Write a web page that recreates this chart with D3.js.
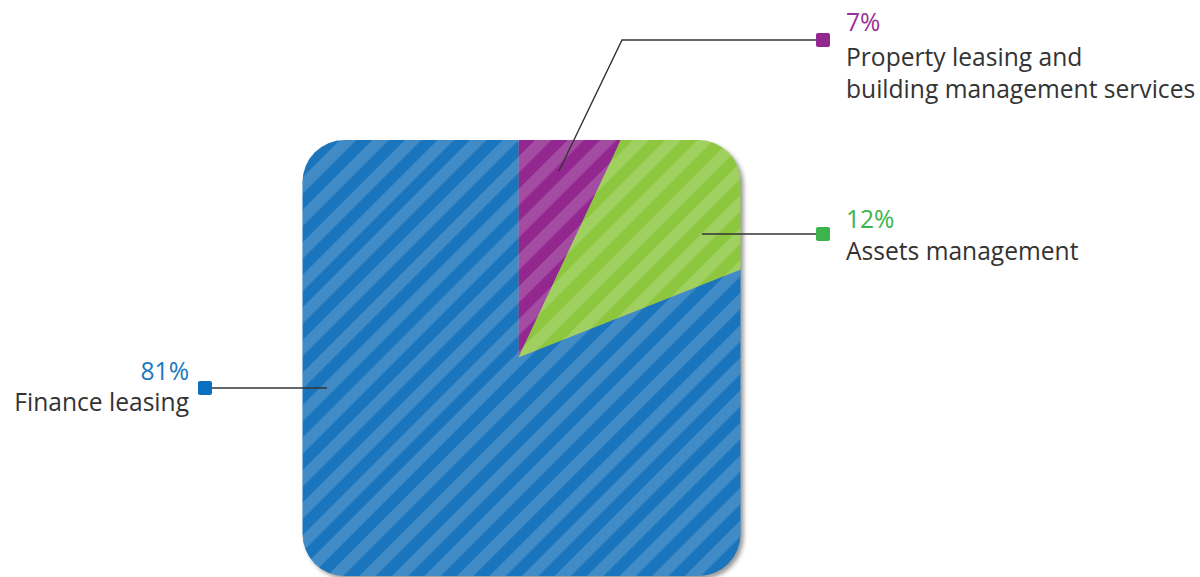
<!DOCTYPE html>
<html>
<head>
<meta charset="utf-8">
<script src="https://cdn.jsdelivr.net/npm/d3@7"></script>
<style>
  html, body { margin: 0; padding: 0; background: #ffffff; }
  svg { display: block; }
</style>
</head>
<body>
<div id="chart"></div>
<script>
// Revenue split by business line
const segments = ['Property leasing and building management services', 'Assets management', 'Finance leasing'];
const shares = [7, 12, 81];
const sliceColors = ['#92278f', '#8dc63f', '#1b75bc'];
const markerColors = ['#92278f', '#3cb44b', '#0a6fbf'];
const pctColors = ['#9a3196', '#3cb44b', '#1b78c0'];
const labelLines = [['Property leasing and', 'building management services'], ['Assets management'], ['Finance leasing']];

const width = 1200, height = 577;
const box = { x: 302.5, y: 140, w: 438, h: 436, r: 42 };
const center = [518.5, 357.5];

// label layout: leader start (inside slice), elbow, marker, text side
const labelLayout = [
    { inner: [559, 171], elbow: [622, 40], marker: [823, 40], anchor: 'start', tx: 846, pctY: 31, textY: 66 },
    { inner: [702, 234], elbow: null, marker: [823, 234], anchor: 'start', tx: 846, pctY: 228, textY: 260 },
    { inner: [327, 388], elbow: null, marker: [205, 388], anchor: 'end', tx: 189, pctY: 380, textY: 411 }
];

const svg = d3.select('#chart').append('svg')
    .attr('width', width)
    .attr('height', height)
    .attr('viewBox', `0 0 ${width} ${height}`);

const defs = svg.append('defs');

defs.append('clipPath').attr('id', 'boxClip')
    .append('rect')
    .attr('x', box.x).attr('y', box.y)
    .attr('width', box.w).attr('height', box.h)
    .attr('rx', box.r).attr('ry', box.r);

defs.append('filter').attr('id', 'shadowBlur')
    .attr('x', '-10%').attr('y', '-10%').attr('width', '120%').attr('height', '120%')
    .append('feGaussianBlur').attr('stdDeviation', 2);

// diagonal stripe overlay
const stripe = defs.append('pattern')
    .attr('id', 'stripes')
    .attr('patternUnits', 'userSpaceOnUse')
    .attr('width', 23).attr('height', 23)
    .attr('patternTransform', 'translate(340,140) rotate(45)');
stripe.append('rect')
    .attr('width', 11.5).attr('height', 23)
    .attr('fill', '#ffffff').attr('fill-opacity', 0.17);

// drop shadow behind the box
svg.append('rect')
    .attr('x', box.x + 3).attr('y', box.y + 3)
    .attr('width', box.w).attr('height', box.h)
    .attr('rx', box.r).attr('ry', box.r)
    .attr('fill', '#777')
    .attr('opacity', 0.75)
    .attr('filter', 'url(#shadowBlur)');

const pie = d3.pie().sort(null).value(d => d)(shares);
const arc = d3.arc().innerRadius(0).outerRadius(700);

const pieGroup = svg.append('g').attr('clip-path', 'url(#boxClip)');
const slices = pieGroup.append('g').attr('transform', `translate(${center[0]},${center[1]})`);

slices.selectAll('path.slice')
    .data(pie)
    .enter()
    .append('path')
    .attr('class', 'slice')
    .attr('d', arc)
    .attr('fill', (d, i) => sliceColors[i]);

pieGroup.append('rect')
    .attr('x', box.x).attr('y', box.y)
    .attr('width', box.w).attr('height', box.h)
    .attr('fill', 'url(#stripes)');

// labels
const labels = svg.append('g').attr('class', 'labels');

labelLayout.forEach((lay, i) => {
    const pts = [lay.inner];
    if (lay.elbow) pts.push(lay.elbow);
    pts.push(lay.marker);

    labels.append('path')
        .attr('d', d3.line()(pts))
        .attr('fill', 'none')
        .attr('stroke', '#333')
        .attr('stroke-width', 1.4);

    labels.append('rect')
        .attr('x', lay.marker[0] - 7).attr('y', lay.marker[1] - 7)
        .attr('width', 14).attr('height', 14)
        .attr('rx', 2)
        .attr('fill', markerColors[i]);

    labels.append('text')
        .attr('x', lay.tx).attr('y', lay.pctY)
        .attr('text-anchor', lay.anchor)
        .attr('font-family', 'Open Sans, sans-serif')
        .attr('font-size', '24.6px')
        .attr('fill', pctColors[i])
        .text(shares[i] + '%');

    labelLines[i].forEach((line, j) => {
        labels.append('text')
            .attr('x', lay.tx).attr('y', lay.textY + j * 32)
            .attr('text-anchor', lay.anchor)
            .attr('font-family', 'Open Sans, sans-serif')
            .attr('font-size', '24.6px')
            .attr('fill', '#333')
            .text(line);
    });
});
</script>
</body>
</html>
